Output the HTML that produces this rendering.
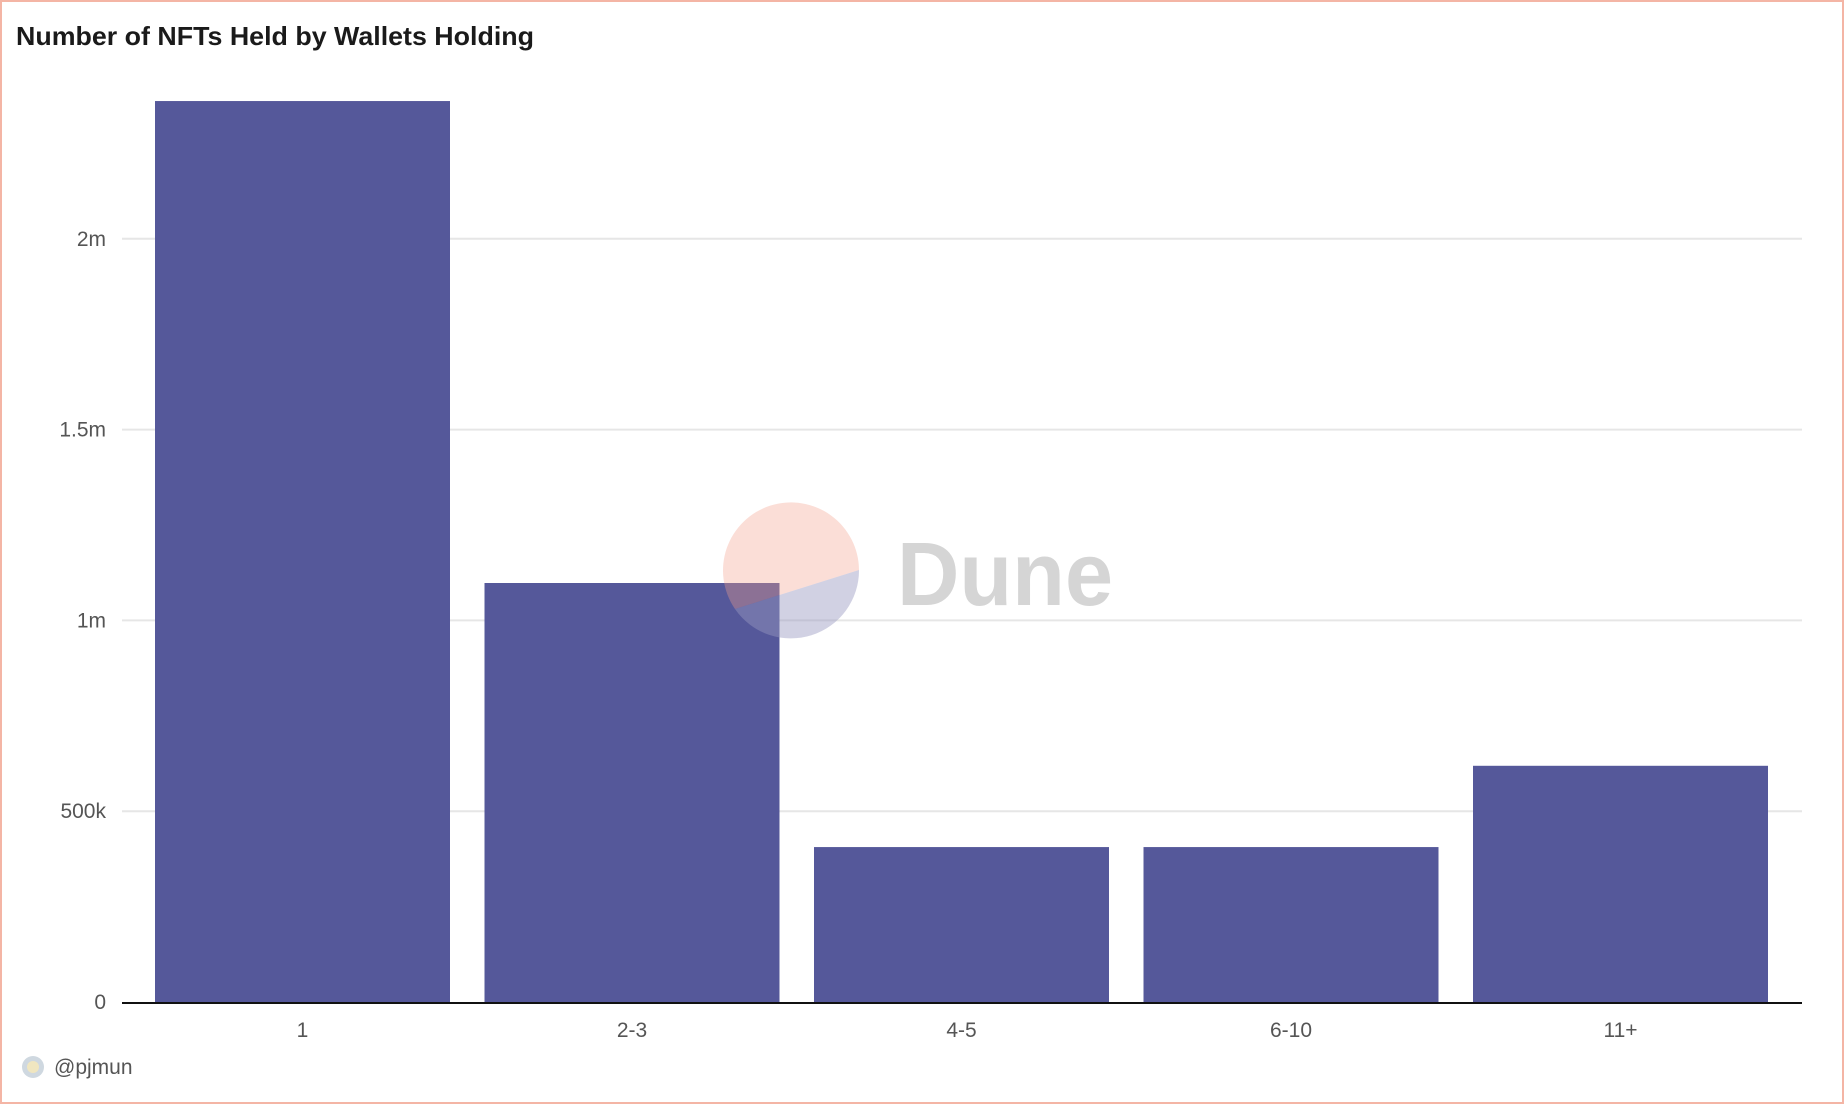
<!DOCTYPE html>
<html><head><meta charset="utf-8"><style>
html,body{margin:0;padding:0;background:#fff;}
body{width:1844px;height:1104px;position:relative;overflow:hidden;font-family:"Liberation Sans",sans-serif;}
#frame{position:absolute;left:0;top:0;width:1840px;height:1100px;border:2px solid #f4b5a5;}
</style></head><body>
<div id="frame"></div>
<svg id="chart" width="1844" height="1104" style="position:absolute;left:0;top:0">
<text x="16" y="45" font-size="26" font-weight="bold" fill="#1a1a1a" font-family="Liberation Sans, sans-serif" textLength="518" lengthAdjust="spacingAndGlyphs">Number of NFTs Held by Wallets Holding</text>
<g id="grid"></g>
<g id="bars"></g>
<g>
<path d="M735,609 A68,68 0 1 1 859,570 Z" fill="#f4a08c" opacity="0.35"/>
<path d="M735,609 A68,68 0 0 0 859,570 Z" fill="#9a9ac0" opacity="0.45"/>
<text x="897" y="605" font-size="90" font-weight="bold" fill="#d5d5d5" font-family="Liberation Sans, sans-serif" textLength="216" lengthAdjust="spacingAndGlyphs">Dune</text>
</g>
<g id="axis"></g>
<circle cx="33" cy="1067" r="11" fill="#cfd8e0"/>
<circle cx="33" cy="1067" r="6" fill="#f0e6c0"/>
<text x="54" y="1074" font-size="21" fill="#555" font-family="Liberation Sans, sans-serif">@pjmun</text>
</svg>
<script>
const categories = ["1","2-3","4-5","6-10","11+"];
const values = [2361000,1098000,406000,406000,619000];
const tickValues = [0,500000,1000000,1500000,2000000];
const tickLabels = ["0","500k","1m","1.5m","2m"];
const NS="http://www.w3.org/2000/svg";
const y0=1002, pxPer=190.8/500000;
function y(v){return y0 - v*pxPer;}
function xBand(i){return 140 + i*329.5;}
const grid=document.getElementById('grid');
tickValues.forEach((t,i)=>{
  if(t>0){
    const l=document.createElementNS(NS,'line');
    l.setAttribute('x1',122);l.setAttribute('x2',1802);
    l.setAttribute('y1',y(t));l.setAttribute('y2',y(t));
    l.setAttribute('stroke','#e6e6e6');l.setAttribute('stroke-width','2');
    
    
    grid.appendChild(l);
  }
  const tx=document.createElementNS(NS,'text');
  tx.setAttribute('x',106);tx.setAttribute('y',y(t)+7);
  tx.setAttribute('text-anchor','end');tx.setAttribute('font-size','21');
  tx.setAttribute('fill','#555');
  tx.textContent=tickLabels[i];
  
  
  grid.appendChild(tx);
});
const bars=document.getElementById('bars');
categories.forEach((c,i)=>{
  const r=document.createElementNS(NS,'rect');
  r.setAttribute('x',xBand(i)+15);r.setAttribute('width',295);
  r.setAttribute('y',y(values[i]));r.setAttribute('height',y0-y(values[i]));
  r.setAttribute('fill','#55589a');
  
  
  bars.appendChild(r);
  const tx=document.createElementNS(NS,'text');
  tx.setAttribute('x',xBand(i)+162.5);tx.setAttribute('y',1037);
  tx.setAttribute('text-anchor','middle');tx.setAttribute('font-size','21');
  tx.setAttribute('fill','#555');
  tx.textContent=c;
  
  
  bars.appendChild(tx);
});
const ax=document.getElementById('axis');
const l=document.createElementNS(NS,'line');
l.setAttribute('x1',122);l.setAttribute('x2',1802);l.setAttribute('y1',y0+1);l.setAttribute('y2',y0+1);
l.setAttribute('stroke','#111');l.setAttribute('stroke-width','2');


ax.appendChild(l);
</script>
</body></html>
